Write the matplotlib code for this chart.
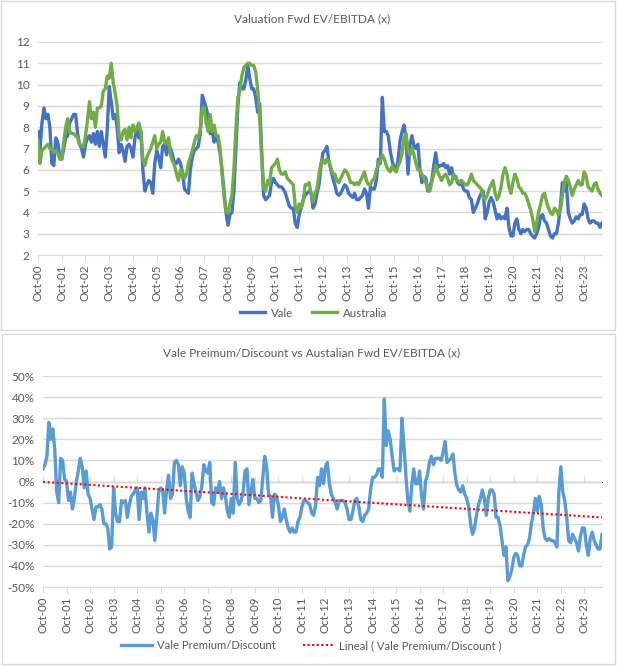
import matplotlib
matplotlib.use("Agg")
import matplotlib.pyplot as plt
from matplotlib.patches import Rectangle
import numpy as np

plt.rcParams['font.family'] = ['Lato', 'DejaVu Sans']

# monthly, Oct-00 .. Jul-24
vale = [
    7.8, 7.0, 8.2, 8.9, 8.4, 8.6, 8.0, 6.3, 6.2, 7.5, 7.3, 6.6,
    6.5, 7.0, 7.5, 7.6, 8.2, 8.4, 8.6, 8.6, 7.7, 7.2, 7.0, 6.6,
    7.2, 7.5, 7.6, 7.3, 7.7, 7.2, 7.8, 7.1, 7.8, 7.2, 6.6, 7.9,
    9.9, 9.2, 8.4, 8.6, 8.0, 6.8, 7.2, 6.9, 6.4, 7.1, 7.2, 7.0,
    6.6, 7.5, 7.9, 7.5, 7.8, 6.0, 5.0, 5.3, 5.5, 5.4, 4.9, 6.3,
    6.9, 6.6, 6.1, 7.1, 7.2, 6.7, 7.2, 7.0, 6.7, 6.3, 6.3, 6.5,
    6.3, 5.9, 5.1, 5.0, 4.9, 6.0, 6.6, 6.9, 7.0, 7.1, 7.7, 9.5,
    9.2, 8.9, 8.5, 7.7, 7.8, 7.3, 7.6, 7.3, 6.8, 6.0, 5.0, 4.0,
    3.4, 3.9, 4.0, 5.0, 7.0, 9.0, 10.1, 9.8, 9.8, 10.2, 10.9, 10.3,
    9.8, 9.8, 9.4, 8.7, 9.1, 7.0, 4.8, 4.6, 4.7, 4.8, 5.4, 5.6,
    5.4, 5.3, 5.2, 5.2, 5.1, 4.9, 4.6, 4.3, 4.2, 4.2, 3.5, 3.3,
    3.9, 4.2, 4.6, 4.8, 4.9, 5.0, 4.9, 4.2, 4.4, 4.9, 5.3, 6.2,
    6.8, 6.9, 7.1, 6.4, 6.0, 5.6, 5.3, 4.9, 4.8, 4.9, 5.1, 5.3,
    5.2, 4.9, 4.8, 4.7, 4.9, 4.6, 4.6, 4.7, 4.8, 5.1, 4.9, 4.2,
    5.2, 5.1, 5.1, 5.5, 6.5, 6.3, 9.4, 7.8, 7.8, 7.6, 6.9, 6.4,
    6.1, 6.0, 6.5, 7.4, 7.8, 8.1, 7.5, 5.8, 7.2, 7.6, 7.1, 7.0,
    7.2, 6.0, 5.4, 5.7, 5.6, 5.0, 5.2, 5.5, 6.2, 6.8, 6.1, 6.2,
    6.2, 6.3, 6.1, 6.2, 5.8, 6.1, 5.6, 5.7, 5.4, 5.3, 5.5, 5.1,
    5.0, 5.0, 4.7, 4.6, 4.0, 4.2, 4.4, 4.7, 4.9, 5.0, 3.7, 4.0,
    4.5, 4.7, 4.5, 4.1, 3.7, 3.9, 3.7, 3.8, 3.7, 4.2, 3.3, 2.9,
    2.9, 3.5, 3.7, 3.2, 3.0, 3.2, 3.1, 3.2, 3.2, 3.0, 2.9, 2.8,
    3.0, 3.3, 3.8, 3.9, 3.6, 3.5, 3.2, 2.9, 2.8, 3.0, 3.0, 3.5,
    4.3, 5.4, 5.0, 5.4, 4.0, 3.7, 3.5, 3.6, 3.8, 3.7, 3.9, 3.9,
    4.4, 4.2, 3.7, 3.5, 3.6, 3.6, 3.5, 3.5, 3.3, 3.5,
]

australia = [
    7.4, 6.3, 6.9, 7.0, 7.1, 7.2, 7.0, 7.0, 6.8, 6.9, 6.8, 6.5,
    6.5, 7.3, 8.0, 8.4, 7.8, 7.7, 7.7, 7.6, 7.5, 7.2, 7.1, 7.1,
    7.6, 8.3, 9.2, 8.4, 8.7, 8.0, 8.9, 8.9, 9.0, 9.7, 9.8, 10.4,
    10.3, 11.0, 10.1, 9.6, 9.0, 7.6, 7.4, 7.8, 7.9, 7.4, 8.0, 7.5,
    8.1, 7.8, 8.0, 8.2, 7.8, 6.5, 6.2, 6.6, 6.8, 7.0, 7.3, 7.6,
    7.0, 7.2, 7.3, 7.8, 7.3, 7.2, 7.5, 6.7, 6.4, 6.2, 5.8, 5.5,
    6.0, 5.9, 5.6, 5.8, 6.3, 6.6, 6.9, 7.3, 7.6, 7.5, 7.9, 8.9,
    8.9, 8.2, 7.8, 8.6, 7.8, 8.1, 7.6, 7.6, 7.0, 5.8, 4.8, 4.0,
    4.0, 4.4, 4.8, 6.0, 7.9, 9.4, 9.7, 10.4, 10.8, 10.9, 11.0, 11.0,
    10.9, 10.9, 10.6, 9.8, 8.5, 6.6, 5.2, 5.0, 5.5, 5.3, 6.1, 6.2,
    6.3, 6.5, 6.0, 5.8, 5.8, 5.9, 5.6, 5.5, 5.4, 5.3, 4.3, 4.0,
    4.4, 4.2, 4.5, 5.3, 5.3, 5.4, 4.9, 4.5, 4.9, 5.1, 5.8, 6.3,
    6.5, 6.3, 6.5, 6.4, 6.1, 5.8, 5.8, 5.5, 5.4, 5.6, 5.8, 6.0,
    5.9, 5.7, 5.4, 5.4, 5.3, 5.4, 5.3, 5.5, 5.7, 5.9, 5.5, 5.3,
    5.3, 5.5, 5.6, 6.0, 6.2, 6.5, 6.7, 6.5, 6.2, 6.0, 5.9, 6.2,
    6.0, 5.9, 6.2, 6.4, 6.8, 7.5, 7.7, 6.9, 6.7, 7.0, 6.7, 6.3,
    6.0, 6.0, 5.8, 5.6, 5.4, 5.1, 5.0, 5.4, 5.8, 6.2, 5.9, 5.7,
    5.5, 5.7, 5.8, 5.6, 5.3, 5.4, 5.8, 5.6, 5.5, 5.4, 5.5, 5.4,
    5.3, 5.3, 5.5, 5.8, 5.5, 5.4, 5.3, 5.2, 5.1, 4.7, 4.6, 4.8,
    5.1, 5.3, 5.5, 4.9, 4.6, 4.8, 5.2, 5.8, 6.1, 5.8, 5.2, 4.9,
    5.4, 5.8, 5.6, 5.2, 5.1, 4.9, 4.9, 4.7, 4.4, 4.1, 3.7, 3.1,
    3.5, 4.0, 4.4, 4.8, 4.9, 4.5, 4.2, 4.0, 3.9, 4.2, 4.1, 3.9,
    4.1, 4.8, 5.4, 5.7, 5.5, 5.2, 4.8, 5.1, 5.3, 5.5, 5.3, 5.3,
    5.9, 5.7, 5.2, 5.1, 5.0, 5.3, 5.4, 5.1, 4.9, 4.8,
]

# Vale premium / discount vs Australia, %
premium = [
    6, 8, 12, 28, 20, 25, 15, -5, -10, 11, 10, 1,
    0, -9, -5, -13, -8, 0, 5, 11, 7, -3, 5, -6,
    -8, -13, -18, -12, -12, -11, -13, -20, -20, -22, -32, -31,
    -3, -15, -19, -19, -9, -10, -9, -17, -11, -7, -6, -4,
    -3, -18, -5, -8, -3, -15, -24, -15, -18, -28, -17, -5,
    -3, -4, -15, -4, 3, -8, -6, 9, 10, 8, -2, 7,
    4, -8, -14, -17, 4, -1, -5, -9, -7, -2, 8, 5,
    4, 9, -10, -11, -3, -5, 0, -8, -3, -7, -14, -17,
    -8, -15, 9, -8, -11, -9, -5, 5, 6, -11, -5, 1,
    -8, -8, -10, -9, 1, 12, 7, -6, -7, -17, -6, -7,
    -11, -19, -17, -13, -18, -22, -24, -22, -24, -24, -19, -17,
    -12, -9, -9, -10, -11, -15, -16, -11, 2, -2, 6, -1,
    7, 9, -1, -6, -8, -10, -13, -9, -9, -9, -10, -13,
    -18, -18, -14, -9, -8, -12, -18, -19, -16, -15, -13, -4,
    2, 2, 3, 6, 6, 2, 39, 17, 24, 20, 12, 5,
    6, 6, 5, 30, 17, 3, -9, -14, -2, 6, -1, -1,
    5, -7, -13, 0, 3, 9, 12, 8, 11, 11, 11, 10,
    14, 19, 9, 10, 11, 13, 4, -2, -4, -5, -2, -6,
    -8, -12, -20, -25, -22, -16, -11, -8, -4, -8, -16, -8,
    -4, -4, -6, -17, -17, -21, -28, -35, -31, -47, -45, -42,
    -36, -34, -35, -40, -40, -35, -31, -30, -27, -20, -15, -8,
    -14, -7, -11, -22, -27, -28, -27, -28, -28, -29, -31, -5,
    7, -5, -9, -17, -28, -29, -25, -27, -29, -33, -26, -22,
    -22, -30, -35, -27, -24, -28, -30, -32, -32, -25,
]

tick_labels = ["Oct-%02d" % y for y in range(0, 24)]

txt = "#595959"
grid = "#d9d9d9"

x = np.arange(len(vale))
xt = np.arange(0, 12 * len(tick_labels), 12)

fig = plt.figure(figsize=(6.17, 6.66), dpi=100)

# panel borders
fig.patches.append(Rectangle((0.002, 0.505), 0.994, 0.493, transform=fig.transFigure,
                             fill=False, edgecolor=grid, lw=1))
fig.patches.append(Rectangle((0.003, 0.003), 0.994, 0.495, transform=fig.transFigure,
                             fill=False, edgecolor=grid, lw=1))


def style(ax):
    for s in ["top", "right", "left"]:
        ax.spines[s].set_visible(False)
    ax.spines["bottom"].set_color(grid)
    ax.grid(axis="y", color=grid, lw=1)
    ax.set_axisbelow(True)
    ax.tick_params(axis="y", length=0, labelsize=8.5, labelcolor=txt, pad=6)
    ax.tick_params(axis="x", length=4, color=grid, labelsize=8.3, labelcolor=txt,
                   rotation=90, pad=3)
    ax.set_xticks(xt)
    ax.set_xticklabels(tick_labels)
    ax.set_xlim(0, 285)


# top: valuation
ax1 = fig.add_axes([0.0616, 0.617, 0.914, 0.320])
style(ax1)
ax1.plot(x, vale, color="#4472C4", lw=2.4, label="Vale")
ax1.plot(x, australia, color="#70AD47", lw=2.4, label="Australia")
ax1.set_ylim(2, 12)
ax1.set_yticks(range(2, 13))
fig.text(0.506, 0.972, "Valuation Fwd EV/EBITDA (x)", ha="center", va="center",
         fontsize=8.6, color=txt)
fig.legend(*ax1.get_legend_handles_labels(), loc="center", bbox_to_anchor=(0.508, 0.530),
           ncol=2, frameon=False, fontsize=8.3, labelcolor=txt, handlelength=2.2,
           handletextpad=0.5, columnspacing=1.6)

# bottom: premium/discount
ax2 = fig.add_axes([0.0697, 0.1186, 0.906, 0.3168])
style(ax2)
ax2.plot(x, premium, color="#5B9BD5", lw=2.4, label="Vale Premium/Discount")
coef = np.polyfit(x, premium, 1)
ax2.plot(x, np.polyval(coef, x), color="#FF0000", lw=1.5, ls=(0, (1, 1.2)),
         label="Lineal ( Vale Premium/Discount )")
ax2.set_ylim(-50, 50)
ax2.set_yticks(range(-50, 51, 10))
ax2.set_yticklabels(["%d%%" % v for v in range(-50, 51, 10)])
# category axis crossing at 0%
sec = ax2.secondary_xaxis(0.5)
sec.set_xticks(xt)
sec.set_xticklabels([])
sec.tick_params(length=4, color=grid)
sec.spines["bottom"].set_color(grid)
fig.text(0.505, 0.471, "Vale Preimum/Discount vs Austalian Fwd EV/EBITDA (x)",
         ha="center", va="center", fontsize=8.6, color=txt)
fig.legend(*ax2.get_legend_handles_labels(), loc="center", bbox_to_anchor=(0.505, 0.031),
           ncol=2, frameon=False, fontsize=8.1, labelcolor=txt, handlelength=2.7,
           handletextpad=0.5, columnspacing=2.4)

fig.savefig("out.png", dpi=100)
